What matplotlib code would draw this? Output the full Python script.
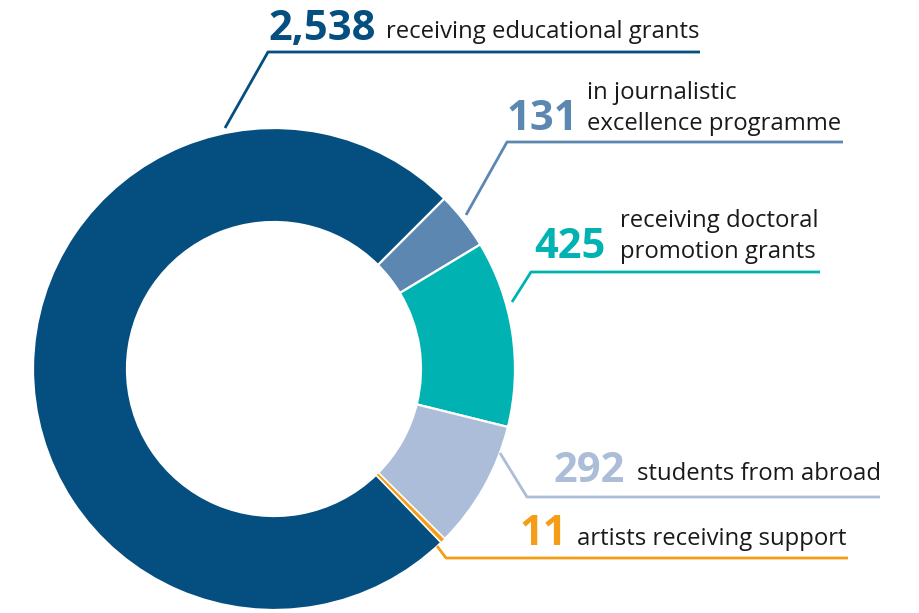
import matplotlib
matplotlib.use("Agg")
from matplotlib import pyplot as plt

plt.rcParams['font.family'] = ['Open Sans', 'DejaVu Sans']

# data
values = [2538, 131, 425, 292, 11]
numbers = ["2,538", "131", "425", "292", "11"]
labels = ["receiving educational grants",
          "in journalistic\nexcellence programme",
          "receiving doctoral\npromotion grants",
          "students from abroad",
          "artists receiving support"]
colors = ["#044e80", "#5b87b0", "#00b2b2", "#abbdd8", "#f59d17"]

W, H = 919, 613

def P(x, y):
    # pixel coords (origin top-left) -> data coords
    return x, H - y

fig = plt.figure(figsize=(W / 100, H / 100), dpi=100)
ax = fig.add_axes([0, 0, 1, 1])

total = sum(values)
start = 45 + values[0] / total * 360
wedges, _ = ax.pie(values, colors=colors, startangle=start, counterclock=False,
                   center=P(274, 369), radius=241, frame=True,
                   wedgeprops=dict(width=94, edgecolor="white", linewidth=1.6))
# keep the tiny slice visible
wedges[-1].set_zorder(5)
wedges[-1].set_linewidth(0.8)
ax.set_xlim(0, W)
ax.set_ylim(0, H)
ax.set_aspect("equal")
ax.axis("off")

# leader lines: (elbow points), colour taken from the wedge
leaders = [
    [(225, 128), (268, 52), (700, 52)],
    [(466, 215), (507, 142), (843, 142)],
    [(512, 302), (531, 272), (820, 272)],
    [(500, 453), (527, 497), (880, 497)],
    [(437, 546), (446, 558), (848, 558)],
]
for pts, c in zip(leaders, colors):
    xs = [P(*p)[0] for p in pts]
    ys = [P(*p)[1] for p in pts]
    ax.plot(xs, ys, color=c, lw=2, solid_capstyle="butt")

# number + label positions (number right edge, label left edge, baseline)
num_pos = [(376, 40), (578, 130), (606, 258), (625, 482), (567, 545)]
lab_pos = [(386, 38), (587, 130), (620, 258), (637, 480), (577, 545)]
for i in range(len(values)):
    nx, ny = P(*num_pos[i])
    ax.text(nx, ny, numbers[i], color=colors[i], fontsize=30, fontweight="bold",
            ha="right", va="baseline")
    lx, ly = P(*lab_pos[i])
    ax.text(lx, ly, labels[i], color="#1a1a1a", fontsize=17.2, ha="left",
            va="baseline", linespacing=1.38)

fig.savefig("out.png", dpi=100)
